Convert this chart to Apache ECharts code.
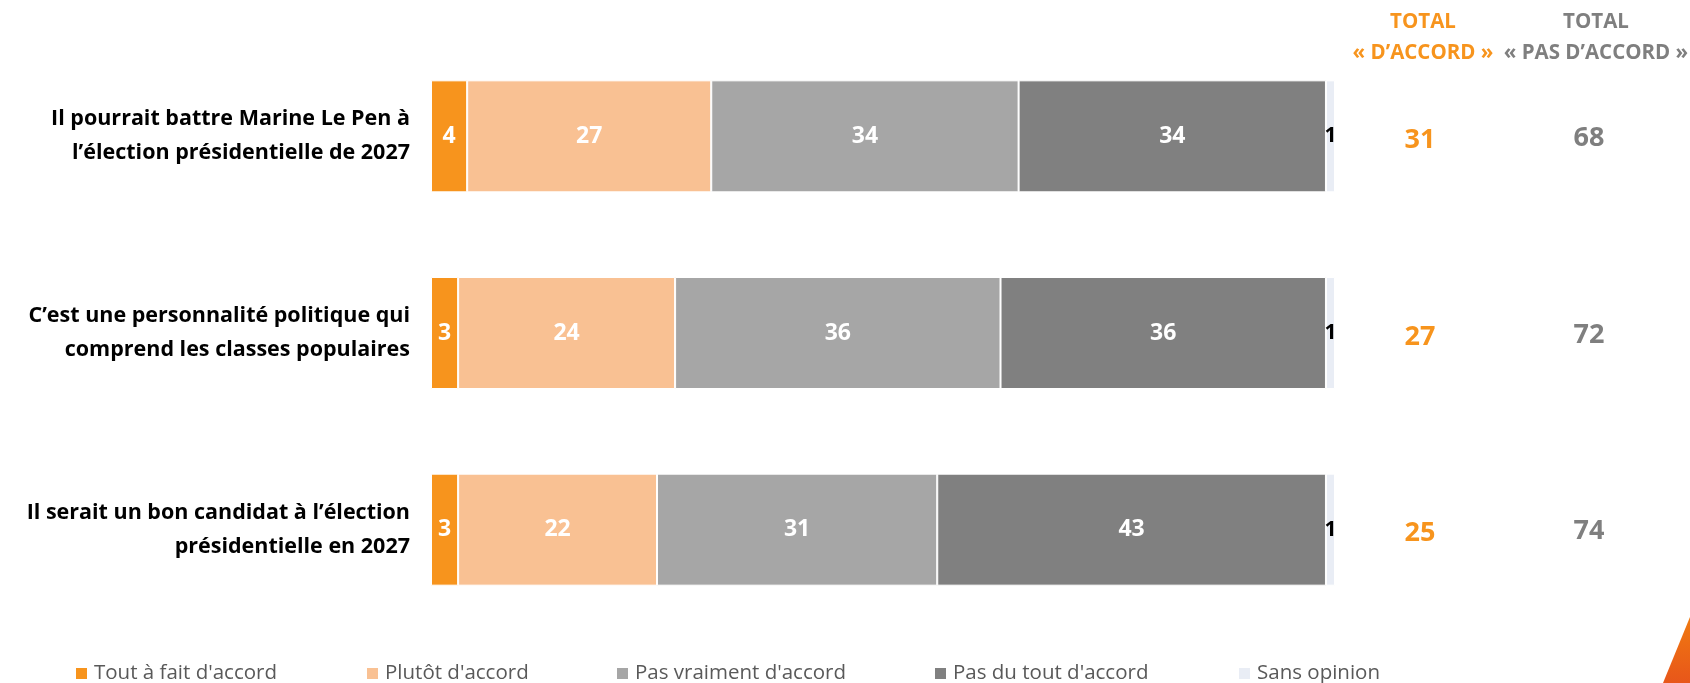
<!DOCTYPE html>
<html>
<head>
<meta charset="utf-8">
<script src="https://cdn.jsdelivr.net/npm/echarts@6/dist/echarts.min.js"></script>
<style>
  html, body { margin: 0; padding: 0; background: #fff; }
  #chart { width: 1690px; height: 683px; }
</style>
</head>
<body>
<div id="chart"></div>
<script>
// données
const categories = [
  'Il pourrait battre Marine Le Pen à\nl’élection présidentielle de 2027',
  'C’est une personnalité politique qui\ncomprend les classes populaires',
  'Il serait un bon candidat à l’élection\nprésidentielle en 2027'
]
const seriesNames = ['Tout à fait d\'accord', 'Plutôt d\'accord', 'Pas vraiment d\'accord', 'Pas du tout d\'accord', 'Sans opinion']
const toutAFait = [4, 3, 3]
const plutot = [27, 24, 22]
const pasVraiment = [34, 36, 31]
const pasDuTout = [34, 36, 43]
const sansOpinion = [1, 1, 1]
const totalAccord = [31, 27, 25]
const totalPasAccord = [68, 72, 74]

const colors = ['#F7941D', '#F9C193', '#A6A6A6', '#808080', '#E9EDF5']
const font = '"Open Sans", sans-serif'

const chart = echarts.init(document.getElementById('chart'))

const values = [toutAFait, plutot, pasVraiment, pasDuTout, sansOpinion]
const series = values.map((data, i) => ({
  name: seriesNames[i],
  type: 'bar',
  stack: 'total',
  data: data,
  barWidth: 112,
  itemStyle: { color: colors[i], borderColor: '#fff', borderWidth: 1 },
  label: {
    show: true,
    position: 'inside',
    color: i === 4 ? '#000' : '#fff',
    fontFamily: font,
    fontWeight: 'bold',
    fontSize: i === 4 ? 21 : 23
  }
}))

// une légende par élément pour garder les espacements de l'original
const legendLeft = [71, 362, 612, 930, 1234]
const legends = seriesNames.map((name, i) => ({
  data: [name],
  left: legendLeft[i],
  top: 658,
  icon: 'rect',
  itemWidth: 11,
  itemHeight: 11,
  itemGap: 3,
  itemStyle: { borderWidth: 0 },
  textStyle: { fontFamily: font, fontSize: 20.5, color: '#595959', padding: [0, 0, 0, 2] }
}))

// axe des totaux (colonnes à droite), légèrement décalé vers le bas comme dans l'original
function totalAxis (gridIndex, margin, color, totals) {
  return {
    type: 'category',
    gridIndex: gridIndex,
    data: categories,
    inverse: true,
    position: 'right',
    axisLine: { show: false },
    axisTick: { show: false },
    axisLabel: {
      margin: margin,
      align: 'center',
      color: color,
      fontFamily: font,
      fontWeight: 'bold',
      fontSize: 27,
      formatter: (v, i) => totals[i]
    }
  }
}

const option = {
  backgroundColor: '#fff',
  animation: false,
  title: [
    { text: 'TOTAL\n« D’ACCORD »', left: 1418, top: 2, textAlign: 'center',
      textStyle: { color: '#F7941D', fontFamily: font, fontWeight: 'bold', fontSize: 20.5, lineHeight: 31, align: 'center' } },
    { text: 'TOTAL\n« PAS D’ACCORD »', left: 1591, top: 2, textAlign: 'center',
      textStyle: { color: '#7F7F7F', fontFamily: font, fontWeight: 'bold', fontSize: 20.5, lineHeight: 31, align: 'center' } }
  ],
  legend: legends,
  grid: [
    { left: 431, right: 355, top: 38, bottom: 55 },
    { left: 431, right: 355, top: 42, bottom: 51 },
    { left: 431, right: 355, top: 40, bottom: 53 }
  ],
  xAxis: [
    { type: 'value', min: 0, max: 100, show: false, gridIndex: 0 },
    { type: 'value', min: 0, max: 100, show: false, gridIndex: 1 },
    { type: 'value', min: 0, max: 100, show: false, gridIndex: 2 }
  ],
  yAxis: [{
    type: 'category',
    data: categories,
    inverse: true,
    axisLine: { show: false },
    axisTick: { show: false },
    axisLabel: {
      margin: 21,
      align: 'right',
      color: '#000',
      fontFamily: font,
      fontWeight: 'bold',
      fontSize: 21.5,
      lineHeight: 34,
      padding: [3, 0, 0, 0]
    }
  },
  totalAxis(1, 85, '#F7941D', totalAccord),
  totalAxis(2, 254, '#7F7F7F', totalPasAccord)
  ],
  graphic: [{
    type: 'polygon',
    shape: { points: [[1663, 683], [1690, 617], [1690, 683]] },
    style: {
      fill: new echarts.graphic.LinearGradient(0, 0, 0, 1, [
        { offset: 0, color: '#F07A10' },
        { offset: 1, color: '#E8561A' }
      ])
    }
  }],
  series: series
}

chart.setOption(option)
</script>
</body>
</html>
